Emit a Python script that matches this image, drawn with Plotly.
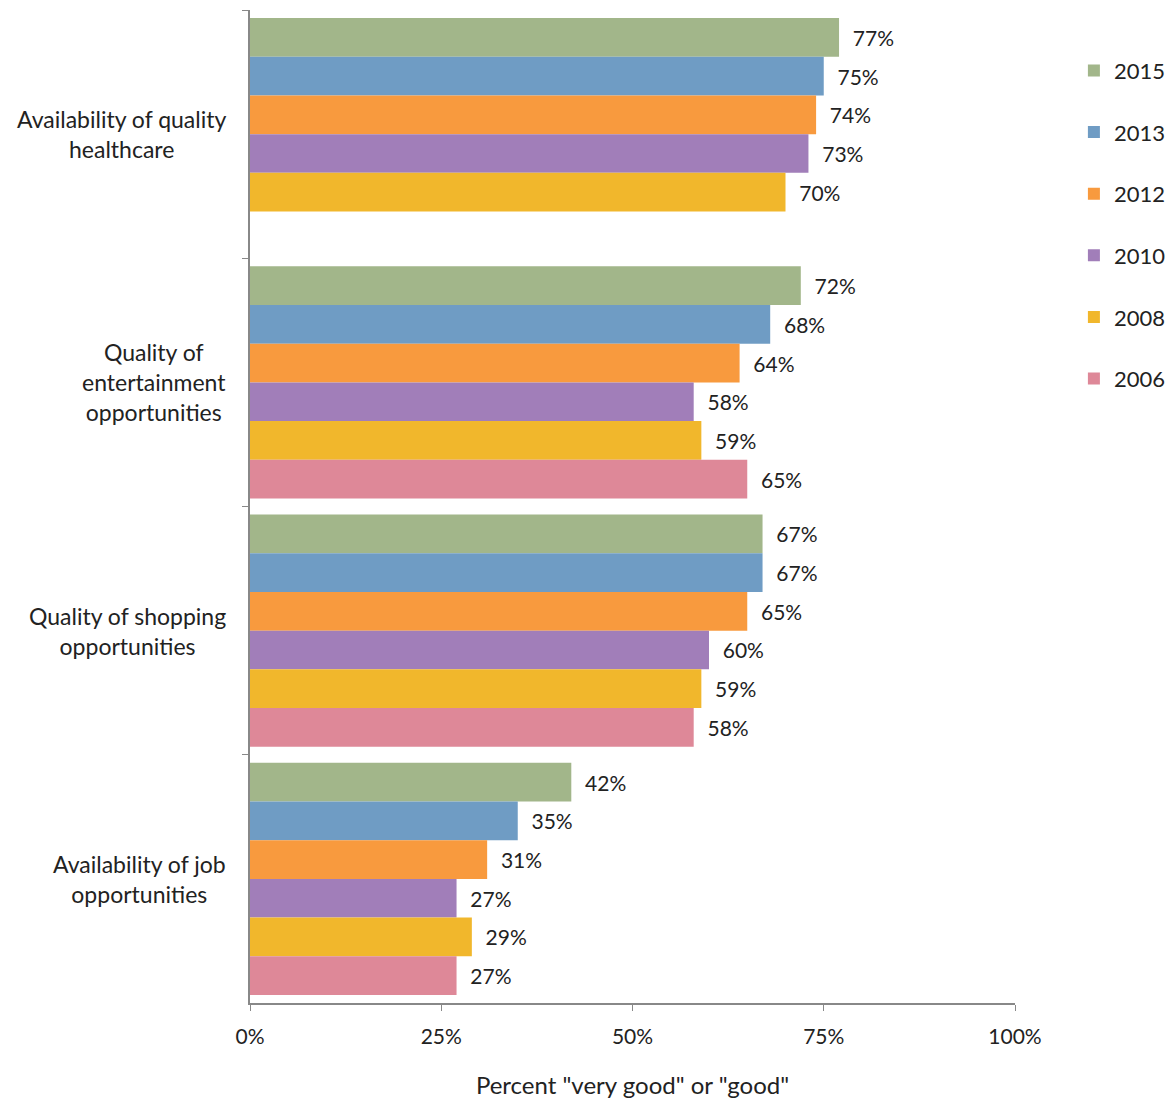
import plotly.graph_objects as go

categories = ["Availability of quality healthcare", "Quality of entertainment opportunities",
              "Quality of shopping opportunities", "Availability of job opportunities"]
category_labels = ["Availability of quality<br>healthcare", "Quality of<br>entertainment<br>opportunities",
                   "Quality of shopping<br>opportunities", "Availability of job<br>opportunities"]
years = ["2015", "2013", "2012", "2010", "2008", "2006"]
values = {
    "2015": [77, 72, 67, 42],
    "2013": [75, 68, 67, 35],
    "2012": [74, 64, 65, 31],
    "2010": [73, 58, 60, 27],
    "2008": [70, 59, 59, 29],
    "2006": [None, 65, 58, 27],
}
colors = {
    "2015": "#A2B68A",
    "2013": "#6F9CC4",
    "2012": "#F89A3E",
    "2010": "#A17EB9",
    "2008": "#F1B72C",
    "2006": "#DE8898",
}
x_ticks = [0, 25, 50, 75, 100]
x_tick_labels = ["0%", "25%", "50%", "75%", "100%"]

FONT = "Lato, 'Open Sans', sans-serif"

fig = go.Figure()
for yr in years:
    vals = values[yr]
    fig.add_trace(go.Bar(
        y=categories, x=vals, orientation="h", name=yr, legendgroup=yr,
        marker=dict(color=colors[yr], line=dict(width=0)),
        text=["  %d%%" % v if v is not None else "" for v in vals],
        textposition="outside", constraintext="none", cliponaxis=False,
        textfont=dict(size=21, color="#222222", family=FONT),
    ))

for cat, lab in zip(categories, category_labels):
    fig.add_annotation(x=0, xref="paper", y=cat, yref="y", xshift=-22, xanchor="right",
                       text=lab, showarrow=False, align="center",
                       font=dict(size=23, color="#222222", family=FONT))

fig.update_layout(
    width=1168, height=1100,
    margin=dict(l=250, r=153, t=10, b=97, autoexpand=False),
    paper_bgcolor="white", plot_bgcolor="white",
    barmode="group", bargap=0.065, bargroupgap=0,
    font=dict(family=FONT, size=20, color="#222222"),
    legend=dict(x=1.077, y=0.960, xanchor="left", yanchor="top",
                traceorder="grouped", tracegroupgap=30,
                font=dict(size=22, color="#222222", family=FONT),
                itemwidth=30),
    showlegend=True,
)
fig.update_xaxes(range=[0, 100], tickvals=x_ticks, ticktext=x_tick_labels,
                 showgrid=False, zeroline=False, showline=True, linecolor="#888888", linewidth=1.5,
                 ticks="outside", ticklen=6, tickcolor="#888888", ticklabelstandoff=8,
                 tickfont=dict(size=21, color="#222222", family=FONT),
                 title=dict(text='Percent "very good" or "good"', font=dict(size=24, color="#222222", family=FONT), standoff=30))
fig.update_yaxes(autorange="reversed", showgrid=False, zeroline=False, showline=True,
                 linecolor="#888888", linewidth=1.5, ticks="outside", ticklen=6, tickcolor="#888888",
                 tickson="boundaries", showticklabels=False)

fig.write_html("out.html")
